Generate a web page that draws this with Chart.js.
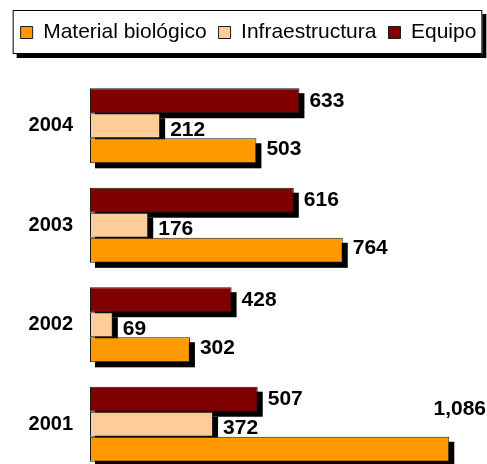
<!DOCTYPE html>
<html>
<head>
<meta charset="utf-8">
<script src="https://cdn.jsdelivr.net/npm/chart.js@4.4.1/dist/chart.umd.min.js"></script>
<style>
  html, body { margin: 0; padding: 0; overflow: hidden; background: #fff; }
  canvas { display: block; }
</style>
</head>
<body>
<canvas id="chart" width="487" height="474"></canvas>
<script>
// ── Data ────────────────────────────────────────────────
const years           = ['2004', '2003', '2002', '2001'];
const equipo          = [633, 616, 428, 507];
const infraestructura = [212, 176, 69, 372];
const material        = [503, 764, 302, 1086];

const FONT = "'Liberation Sans', Arial, sans-serif";
const SHADOW = 5;

// drop shadow under every bar, drawn before the bars themselves
const barShadows = {
  id: 'barShadows',
  beforeDatasetsDraw(chart) {
    const ctx = chart.ctx;
    ctx.save();
    ctx.fillStyle = '#000';
    chart.getSortedVisibleDatasetMetas().forEach(meta => {
      meta.data.forEach(bar => {
        const left = Math.min(bar.base, bar.x);
        ctx.fillRect(left + SHADOW, bar.y - bar.height / 2 + SHADOW,
                     Math.abs(bar.x - bar.base), bar.height);
      });
    });
    ctx.restore();
  },
};

// bold value labels at the end of each bar
const valueLabels = {
  id: 'valueLabels',
  afterDatasetsDraw(chart) {
    const ctx = chart.ctx;
    ctx.save();
    ctx.font = `bold 21px ${FONT}`;
    ctx.fillStyle = '#000';
    ctx.textBaseline = 'middle';
    chart.getSortedVisibleDatasetMetas().forEach(meta => {
      const ds = chart.data.datasets[meta.index];
      meta.data.forEach((bar, i) => {
        const txt = ds.data[i].toLocaleString('en-US');
        const w = ctx.measureText(txt).width;
        let x = bar.x + 10;
        let y = bar.y + (ds.labelShift || 0);
        if (x + w > chart.width - 1) {
          // no room on the right: put it above, flush right
          ctx.textAlign = 'right';
          x = chart.width - 1;
          y = bar.y - bar.height * 1.6;
        } else {
          ctx.textAlign = 'left';
        }
        ctx.fillText(txt, x, y);
      });
    });
    ctx.restore();
  },
};

// framed legend box with shadow
const legendFrame = {
  id: 'legendFrame',
  beforeInit(chart) {
    const fit = chart.legend.fit;
    chart.legend.fit = function () {
      fit.bind(chart.legend)();
      this.height += 23;
    };
  },
  afterLayout(chart) {
    // nudge the legend row a little to the right
    chart.legend.left += 5;
    chart.legend.right += 5;
  },
  beforeDraw(chart) {
    const hb = chart.legend.legendHitBoxes;
    if (!hb || !hb.length) return;
    const left   = Math.min(...hb.map(h => h.left)) - 8;
    const right  = Math.max(...hb.map(h => h.left + h.width)) + 6;
    const top    = hb[0].top - 12;
    const bottom = hb[0].top + hb[0].height + 11;
    const ctx = chart.ctx;
    ctx.save();
    ctx.fillStyle = '#000';
    ctx.fillRect(left + 4, top + 4, right - left, bottom - top);
    ctx.fillStyle = '#fff';
    ctx.fillRect(left, top, right - left, bottom - top);
    ctx.strokeStyle = '#000';
    ctx.lineWidth = 1;
    ctx.strokeRect(left + 0.5, top + 0.5, right - left - 1, bottom - top - 1);
    ctx.restore();
  },
};

new Chart(document.getElementById('chart'), {
  type: 'bar',
  data: {
    labels: years,
    datasets: [
      { label: 'Equipo',             data: equipo,          backgroundColor: '#800000', labelShift: 0 },
      { label: 'Infraestructura',    data: infraestructura, backgroundColor: '#FFCC99', labelShift: 4 },
      { label: 'Material biológico', data: material,        backgroundColor: '#FF9900', labelShift: -2 },
    ].map(d => ({
      ...d,
      borderColor: '#1a1a1a',
      borderWidth: 1,
      borderSkipped: false,
      barPercentage: 1,
      categoryPercentage: 0.755,
    })),
  },
  options: {
    indexAxis: 'y',
    responsive: false,
    animation: false,
    layout: { padding: { top: 10, right: 0, bottom: 0, left: 0 } },
    plugins: {
      legend: {
        position: 'top',
        reverse: true,
        labels: {
          font: { family: FONT, size: 21 },
          color: '#000',
          boxWidth: 12,
          boxHeight: 12,
          padding: 12,
        },
      },
      tooltip: { enabled: false },
    },
    scales: {
      x: { display: false, min: 0, max: 1200 },
      y: {
        grid: { display: false, drawTicks: false },
        border: { display: false },
        ticks: {
          font: { family: FONT, size: 20, weight: 'bold' },
          color: '#000',
          padding: 17,
        },
        afterFit(scale) {
          scale.width = 90;
          scale.paddingTop = 0;
          scale.paddingBottom = 0;
        },
      },
    },
  },
  plugins: [barShadows, valueLabels, legendFrame],
});
</script>
</body>
</html>
